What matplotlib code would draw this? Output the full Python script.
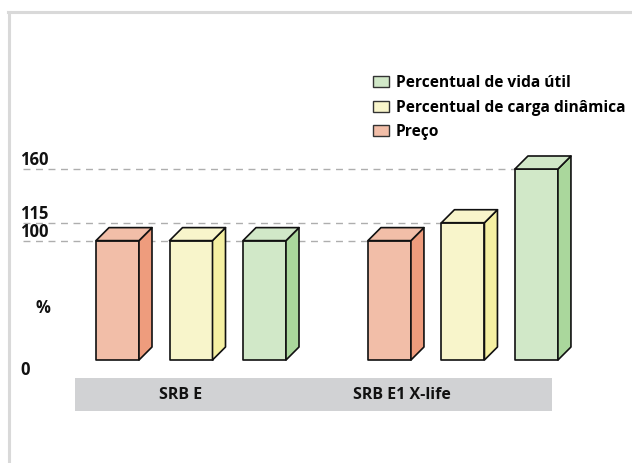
import matplotlib.pyplot as plt
from matplotlib.patches import Polygon, Patch, Rectangle
from matplotlib.lines import Line2D

plt.rcParams['font.family'] = ['Open Sans', 'DejaVu Sans']
plt.rcParams['font.weight'] = 'bold'

# data
groups = ['SRB E', 'SRB E1 X-life']
series = ['Preço', 'Percentual de carga dinâmica', 'Percentual de vida útil']
srb_e = [100, 100, 100]
srb_e1 = [100, 115, 160]
ref_lines = [100, 115, 160]

front = ['#f2bea8', '#f8f5cb', '#d1e8c8']
side = ['#ee9c7d', '#f5f0a2', '#aad79c']

W, H = 632, 463
fig = plt.figure(figsize=(W / 100, H / 100), dpi=100)
ax = fig.add_axes([0, 0, 1, 1])

# scale: 73.5 px per x unit, 0 at x=191px; 0 value at y=360px, 160 at y=169px
xu = 73.5
yu = (360 - 169) / 160
ax.set_xlim(-191 / xu, (W - 191) / xu)
ax.set_ylim(-(H - 360) / yu, 360 / yu)
ax.axis('off')

group_x = [0, 3.7]
offs = [-1, 0, 1]
bw = 43 / xu
dx, dy = 13 / xu, 13 / yu

for g, vals in enumerate([srb_e, srb_e1]):
    for s, v in enumerate(vals):
        x = group_x[g] + offs[s]
        l, r = x - bw / 2, x + bw / 2
        kw = dict(ec='#111111', lw=1.2, zorder=3, joinstyle='round')
        ax.add_patch(Polygon([(l, 0), (r, 0), (r, v), (l, v)], fc=front[s], **kw))
        ax.add_patch(Polygon([(r, 0), (r + dx, dy), (r + dx, v + dy), (r, v)], fc=side[s], **kw))
        ax.add_patch(Polygon([(l, v), (l + dx, v + dy), (r + dx, v + dy), (r, v)], fc=front[s], **kw))

# dashed reference lines + labels
x_start = (23 - 191) / xu
for val in ref_lines:
    s = srb_e1.index(val)
    x_end = group_x[1] + offs[s] - bw / 2
    ax.plot([x_start, x_end], [val, val], color='#aeaeae', lw=1.0,
            ls=(0, (5, 4)), zorder=1)
    ax.text((20 - 191) / xu, val + 4 / yu, str(val), fontsize=12,
            ha='left', va='baseline', color='#111111')
ax.text((20 - 191) / xu, -15 / yu, '0', fontsize=12, ha='left', va='baseline', color='#111111')
ax.text((36 - 191) / xu, 47 / yu, '%', fontsize=12, ha='left', va='baseline', color='#111111')

# category band
fig.add_artist(Rectangle((75 / W, 1 - 411 / H), 477 / W, 33 / H,
                         transform=fig.transFigure, fc='#d1d2d4', ec='none'))
for lbl, px in zip(groups, [181, 402]):
    fig.text(px / W, 1 - 395 / H, lbl, fontsize=11.5, ha='center', va='center', color='#111111')

# frame lines
fig.add_artist(Line2D([9 / W, 9 / W], [0, 1 - 12 / H], transform=fig.transFigure,
                      color='#d9d9d9', lw=2.2))
fig.add_artist(Line2D([8 / W, 1], [1 - 12 / H, 1 - 12 / H], transform=fig.transFigure,
                      color='#d9d9d9', lw=2.2))

handles = [Patch(fc=front[i], ec='#333333', lw=1.0, label=series[i]) for i in [2, 1, 0]]
ax.legend(handles=handles, loc='upper left', bbox_to_anchor=(373 / W, 1 - 75 / H),
          bbox_transform=fig.transFigure, frameon=False, fontsize=11.2,
          handlelength=1.05, handleheight=0.72, handletextpad=0.4,
          labelspacing=0.55, borderpad=0, borderaxespad=0)

fig.savefig('out.png', dpi=100)
